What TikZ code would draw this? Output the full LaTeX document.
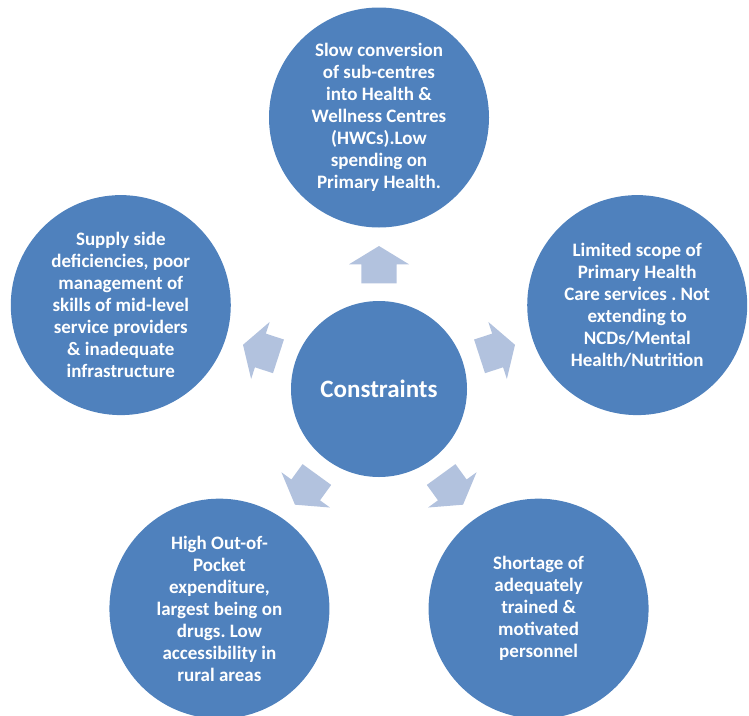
\documentclass[tikz,border=0pt]{standalone}
\usepackage{fontspec}
\setmainfont{Carlito}
\usetikzlibrary{calc}
\definecolor{circblue}{HTML}{4F81BD}
\definecolor{arrowblue}{HTML}{B2C2DE}
\frenchspacing
\begin{document}
\begin{tikzpicture}[x=1pt,y=1pt,
  outer/.style={circle, fill=circblue, minimum size=220pt, inner sep=0pt, text=white, align=center,
    font=\bfseries\fontsize{19}{22}\selectfont\frenchspacing},
  innerc/.style={circle, fill=circblue, minimum size=176pt, inner sep=0pt, text=white,
    font=\bfseries\fontsize{25}{30}\selectfont},
  arrowshape/.style={fill=arrowblue}]
\useasboundingbox (0,0) rectangle (749,-715);
\coordinate (C) at (379,-389);
% arrows
\foreach \a in {0,-72,-144,-216,-288}{
  \fill[arrowshape, shift={(C)}, rotate=\a]
    (-17.7,105.7) -- (17.7,105.7) -- (17.7,124.7) -- (30,124.7) -- (0,143) -- (-30,124.7) -- (-17.7,124.7) -- cycle;
}
\node[innerc] (center) at (C) {Constraints};
\node[outer] (top) at ($(C)+(90:271.5)$) {Slow conversion\\of sub-centres\\into Health \&\\Wellness Centres\\(HWCs).Low\\spending on\\Primary Health.};
\node[outer] (right) at ($(C)+(18:271.5)$) {Limited scope of\\Primary Health\\Care services . Not\\extending to\\NCDs/Mental\\Health/Nutrition};
\node[outer] (bright) at ($(C)+(-54:271.5)$) {Shortage of\\adequately\\trained \&\\motivated\\personnel};
\node[outer] (bleft) at ($(C)+(-126:271.5)$) {High Out-of-\\Pocket\\expenditure,\\largest being on\\drugs. Low\\accessibility in\\rural areas};
\node[outer] (left) at ($(C)+(162:271.5)$) {Supply side\\deficiencies, poor\\management of\\skills of mid-level\\service providers\\\& inadequate\\infrastructure};
\end{tikzpicture}
\end{document}
